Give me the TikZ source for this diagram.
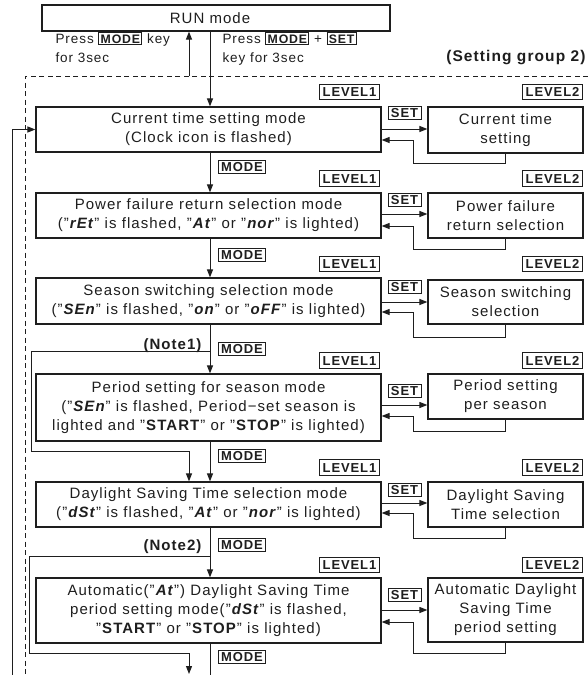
\documentclass[tikz,border=0pt]{standalone}
\usepackage{fontspec}
\setmainfont{Liberation Sans}[LetterSpace=7]
\usetikzlibrary{arrows.meta}
\definecolor{ink}{RGB}{30,30,30}
\newcommand{\seg}[1]{\textbf{\textit{#1}}}
\newcommand{\ikey}[1]{{\setlength{\fboxsep}{1.3pt}\setlength{\fboxrule}{0.9pt}\fbox{\bfseries\fontsize{12.3}{12}\selectfont #1}}}
\begin{document}
\begin{tikzpicture}[x=1pt,y=-1pt,line width=1pt,color=ink,
  font=\fontsize{15}{19}\selectfont,
  l1/.style={draw,line width=1.2pt,minimum width=345pt,align=center,inner sep=0pt},
  l2/.style={draw,line width=1.2pt,minimum width=155pt,align=center,inner sep=0pt},
  keybox/.style={draw,line width=0.9pt,font=\bfseries\fontsize{13}{13}\selectfont,inner xsep=3pt,inner ysep=1.8pt,text height=9.3pt,text depth=0pt},
  levbox/.style={keybox,inner ysep=3pt},
  notetxt/.style={font=\bfseries\fontsize{15}{15}\selectfont,inner sep=0pt},
  toptxt/.style={font=\fontsize{13.5}{19}\selectfont,inner sep=0pt,anchor=base west},
  arr/.style={-{Triangle[length=8pt,width=6pt]},line width=1pt}]
\useasboundingbox (0,0) rectangle (588,675);

% run box
\node[l1,minimum width=348pt,minimum height=26pt] (run) at (216,18) {\hspace*{-12pt}RUN mode};
\node[toptxt] (ta) at (55,43) {Press \ikey{MODE} key};
\node[toptxt] (tb) at (55,62) {for 3sec};
\node[toptxt] (tc) at (222,43) {Press \ikey{MODE} + \ikey{SET}};
\node[toptxt] (td) at (222,62) {key for 3sec};
\node[notetxt,font=\bfseries\fontsize{15.5}{15}\selectfont,anchor=base east] (grp) at (586,61) {(Setting group 2)};

% level 1 boxes
\node[l1,minimum height=45pt] (b1) at (208.5,129.5) {Current time setting mode\\(Clock icon is flashed)};
\node[l1,minimum height=45pt] (b2) at (208.5,215.5) {Power failure return selection mode\\("\seg{rEt}" is flashed, "\seg{At}" or "\seg{nor}" is lighted)};
\node[l1,minimum height=46pt] (b3) at (208.5,301) {Season switching selection mode\\("\seg{SEn}" is flashed, "\seg{on}" or "\seg{oFF}" is lighted)};
\node[l1,minimum height=67pt] (b4) at (208.5,407.5) {Period setting for season mode\\("\seg{SEn}" is flashed, Period−set season is\\lighted and "\textbf{START}" or "\textbf{STOP}" is lighted)};
\node[l1,minimum height=45pt] (b5) at (208.5,504.5) {Daylight Saving Time selection mode\\("\seg{dSt}" is flashed, "\seg{At}" or "\seg{nor}" is lighted)};
\node[l1,minimum height=65pt] (b6) at (208.5,610.5) {Automatic("\seg{At}") Daylight Saving Time\\period setting mode("\seg{dSt}" is flashed,\\"\textbf{START}" or "\textbf{STOP}" is lighted)};

% level 2 boxes
\node[l2,minimum height=46pt] (c1) at (505.5,130) {Current time\\setting};
\node[l2,minimum height=45pt] (c2) at (505.5,215.5) {Power failure\\return selection};
\node[l2,minimum height=44pt] (c3) at (505.5,302) {Season switching\\selection};
\node[l2,minimum height=45pt] (c4) at (505.5,396.5) {Period setting\\per season};
\node[l2,minimum height=45pt] (c5) at (505.5,504.5) {Daylight Saving\\Time selection};
\node[l2,minimum height=64pt] (c6) at (505.5,610) {Automatic Daylight\\Saving Time\\period setting};

% level labels
\foreach \i/\y in {1/92,2/178.5,3/264,4/360.5,5/467.5,6/565}{
  \node[levbox] (la\i) at (349.5,\y) {LEVEL1};
  \node[levbox] (lb\i) at (552.5,\y) {LEVEL2};
}
% SET labels
\foreach \i/\y in {1/112.5,2/199.5,3/286.5,4/390.5,5/489.5,6/594.5}{
  \node[keybox] (s\i) at (404.5,\y) {SET};
}
% MODE labels
\foreach \i/\y in {1/166.5,2/255,3/348.5,4/455.5,5/544.5,6/656.5}{
  \node[keybox] (m\i) at (242,\y) {MODE};
}
\node[notetxt,anchor=base east] (note1) at (202,349) {(Note1)};
\node[notetxt,anchor=base east] (note2) at (202,550) {(Note2)};

% helper coordinates
\coordinate (mx) at (210,0);
\coordinate (ux) at (189,0);
\coordinate (dtop) at (25,76);
\coordinate (dend) at (588,76);
\coordinate (dbot) at (25,675);
\coordinate (lp) at (12,675);
\coordinate (bot) at (210,675);
\coordinate (n1a) at (210,351);
\coordinate (n1b) at (31,451);
\coordinate (n2a) at (210,556);
\coordinate (n2b) at (29,653);
\coordinate (n2e) at (189,674);

\draw[dashed,dash pattern=on 5pt off 3.5pt] (dend) -- (dtop) -- (dbot);
\draw[arr] (lp) |- (b1.west);
\draw[arr] (run.south -| mx) -- (b1.north -| mx);
\draw[arr] (dtop -| ux) -- (run.south -| ux);
\draw[arr] (b1.south -| mx) -- (b2.north -| mx);
\draw[arr] (b2.south -| mx) -- (b3.north -| mx);
\draw[arr] (b3.south -| mx) -- (b4.north -| mx);
\draw[arr] (b4.south -| mx) -- (b5.north -| mx);
\draw[arr] (b5.south -| mx) -- (b6.north -| mx);
\draw (b6.south -| mx) -- (bot);
\draw[arr] (n1a) -| (n1b) -- (n1b -| ux) -- (b5.north -| ux);
\draw[arr] (n2a) -| (n2b) -- (n2b -| ux) -- (n2e);

\foreach \b/\c/\yr/\yl/\yb in {b1/c1/129/140/163,b2/c2/214/226/249,b3/c3/302/312/337,b4/c4/405/416/431,b5/c5/503/513/538,b6/c6/610/622/653}{
  \draw[arr] (\b.east |- 0,\yr) -- (\c.west |- 0,\yr);
  \draw[arr] (\c.south) -- (\c.south |- 0,\yb) -- (413,\yb) -- (413,\yl) -- (\b.east |- 0,\yl);
}
\end{tikzpicture}
\end{document}
